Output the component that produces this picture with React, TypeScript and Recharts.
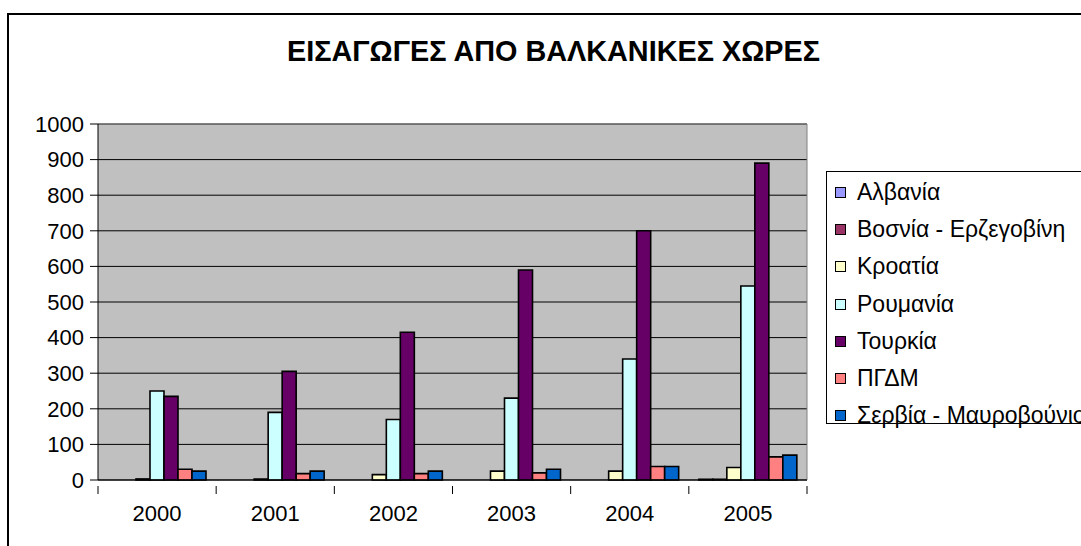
import React from 'react';
import { BarChart, Bar, XAxis, YAxis, CartesianGrid, ReferenceLine } from 'recharts';

const years = ['2000', '2001', '2002', '2003', '2004', '2005'];
const albania = [0, 0, 0, 0, 0, 2];
const bosnia = [0, 0, 0, 0, 0, 2];
const croatia = [3, 3, 15, 25, 25, 35];
const romania = [250, 190, 170, 230, 340, 545];
const turkey = [235, 305, 415, 590, 700, 890];
const fyrom = [30, 18, 18, 20, 38, 65];
const serbia = [25, 25, 25, 30, 38, 70];

const seriesNames = [
  'Αλβανία',
  'Βοσνία - Ερζεγοβίνη',
  'Κροατία',
  'Ρουμανία',
  'Τουρκία',
  'ΠΓΔΜ',
  'Σερβία - Μαυροβούνιο',
];
const seriesValues = [albania, bosnia, croatia, romania, turkey, fyrom, serbia];
const seriesColors = ['#9999FF', '#993366', '#FFFFCC', '#CCFFFF', '#660066', '#FF8080', '#0066CC'];
const yTicks = [0, 100, 200, 300, 400, 500, 600, 700, 800, 900, 1000];
const title = 'ΕΙΣΑΓΩΓΕΣ ΑΠΟ ΒΑΛΚΑΝΙΚΕΣ ΧΩΡΕΣ';

const data = years.map((year, i) => {
  const row: Record<string, string | number> = { year, idx: i };
  seriesValues.forEach((vals, s) => {
    row['s' + s] = vals[i];
  });
  return row;
});

const FONT = '"Liberation Sans", Arial, sans-serif';

const CategoryTick = (props: any) => {
  const { x, y, payload, index, visibleTicksCount } = props;
  const half = payload && payload.offset ? payload.offset : 0;
  const last = index === (visibleTicksCount || years.length) - 1;
  return (
    <g>
      <line x1={x - half} x2={x - half} y1={y - 19} y2={y - 11} stroke="#000" strokeWidth={1} />
      {last ? (
        <line x1={x + half} x2={x + half} y1={y - 19} y2={y - 11} stroke="#000" strokeWidth={1} />
      ) : null}
      <text
        x={x}
        y={y}
        dy="0.71em"
        textAnchor="middle"
        fill="#000"
        fontSize={22}
        fontFamily={FONT}
      >
        {payload.value}
      </text>
    </g>
  );
};

export default function App() {
  return (
    <div
      style={{
        position: 'absolute',
        left: 0,
        top: 0,
        width: 1081,
        height: 546,
        overflow: 'hidden',
        background: '#fff',
        fontFamily: FONT,
      }}
    >
      <div
        style={{
          position: 'absolute',
          left: 7,
          top: 13,
          width: 1200,
          height: 600,
          borderLeft: '2px solid #000',
          borderTop: '2px solid #000',
        }}
      />
      <svg width={1081} height={80} style={{ position: 'absolute', left: 0, top: 0 }}>
        <text
          x={287}
          y={61}
          textLength={533}
          lengthAdjust="spacingAndGlyphs"
          fontFamily={FONT}
          fontWeight="bold"
          fontSize={30}
          fill="#000"
        >
          {title}
        </text>
      </svg>
      <div style={{ position: 'absolute', left: 0, top: 0 }}>
        <BarChart
          width={1081}
          height={546}
          data={data}
          margin={{ top: 124, right: 274, bottom: 26, left: 0 }}
          barCategoryGap={10}
          barGap={0}
        >
          <CartesianGrid
            vertical={false}
            fill="#C0C0C0"
            fillOpacity={1}
            stroke="#000"
            strokeWidth={1}
          />
          <XAxis
            xAxisId="ticks"
            type="number"
            dataKey="idx"
            domain={[0, years.length]}
            hide
          />
          <XAxis
            xAxisId="cat"
            dataKey="year"
            tickLine={false}
            axisLine={{ stroke: '#000', strokeWidth: 1 }}
            tick={<CategoryTick />}
            tickMargin={19}
            height={40}
            interval={0}
          />
          <YAxis
            domain={[0, 1000]}
            ticks={yTicks}
            interval={0}
            width={98}
            tickSize={8}
            tickMargin={6}
            axisLine={{ stroke: '#000' }}
            tickLine={{ stroke: '#000' }}
            tick={{ fill: '#000', fontSize: 22, fontFamily: FONT }}
          />
          <ReferenceLine y={1000} stroke="#808080" strokeWidth={1} xAxisId="cat" />
          <ReferenceLine x={years.length} stroke="#808080" strokeWidth={1} xAxisId="ticks" />
          {seriesNames.map((name, s) => (
            <Bar
              key={name}
              xAxisId="cat"
              dataKey={'s' + s}
              name={name}
              fill={seriesColors[s]}
              stroke="#000"
              strokeWidth={1.6}
              isAnimationActive={false}
            />
          ))}
        </BarChart>
      </div>
      <div
        style={{
          position: 'absolute',
          left: 826,
          top: 171,
          width: 500,
          height: 253,
          borderLeft: '1px solid #000',
          borderTop: '1px solid #000',
          borderBottom: '1px solid #000',
          background: '#fff',
          boxSizing: 'border-box',
          paddingTop: 2,
        }}
      >
        {seriesNames.map((name, s) => (
          <div
            key={name}
            style={{
              height: 37.2,
              display: 'flex',
              alignItems: 'center',
              fontSize: 23,
              fontFamily: FONT,
              color: '#000',
              whiteSpace: 'nowrap',
            }}
          >
            <span
              style={{
                display: 'inline-block',
                width: 11,
                height: 11,
                marginLeft: 8,
                marginRight: 11,
                background: seriesColors[s],
                border: '1px solid #000',
                boxSizing: 'border-box',
              }}
            />
            {name}
          </div>
        ))}
      </div>
    </div>
  );
}
